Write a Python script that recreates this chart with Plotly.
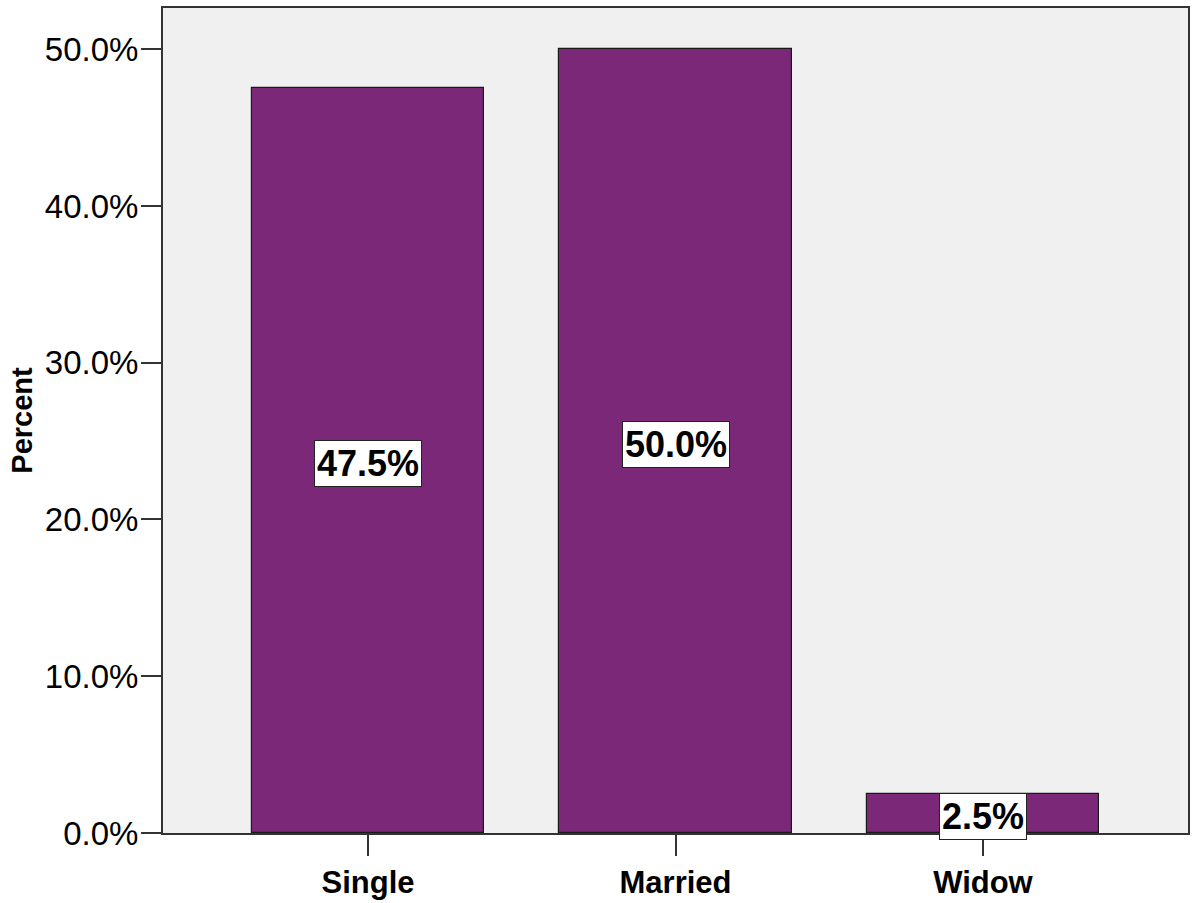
import plotly.graph_objects as go

categories = ["Single", "Married", "Widow"]
percents = [47.5, 50.0, 2.5]
y_ticks = [0, 10, 20, 30, 40, 50]
y_tick_labels = ["0.0%", "10.0%", "20.0%", "30.0%", "40.0%", "50.0%"]

fig = go.Figure()
fig.add_trace(go.Bar(
    x=list(range(len(categories))),
    y=percents,
    width=0.756,
    marker=dict(color="#7B2879", line=dict(color="#1a1a1a", width=1.2)),
    showlegend=False,
    hoverinfo="skip",
))

for i, v in enumerate(percents):
    fig.add_annotation(
        x=i, y=v / 2, xref="x", yref="y",
        text=f"{v:.1f}%",
        showarrow=False,
        yshift=-3,
        font=dict(family="Liberation Sans, Arial", size=36, color="#000000", weight="bold"),
        bgcolor="#FFFFFF",
        bordercolor="#222222",
        borderwidth=1,
        borderpad=2,
    )

fig.update_layout(
    width=1193, height=903,
    margin=dict(l=163, r=3, t=8, b=65, pad=0),
    paper_bgcolor="#FFFFFF",
    plot_bgcolor="#F0F0F0",
    bargap=0,
)

fig.update_xaxes(
    range=[-0.667, 2.667],
    tickmode="array",
    tickvals=list(range(len(categories))),
    ticktext=categories,
    ticks="outside", ticklen=21, tickwidth=1.5, tickcolor="#333333",
    tickfont=dict(family="Liberation Sans, Arial", size=31, color="#000000", weight="bold"),
    showline=True, linecolor="#333333", linewidth=2, mirror=True,
    showgrid=False, zeroline=False,
    fixedrange=True,
)

fig.update_yaxes(
    range=[0, 52.63],
    tickmode="array",
    tickvals=y_ticks,
    ticktext=y_tick_labels,
    ticks="outside", ticklen=20, tickwidth=1.5, tickcolor="#333333",
    tickfont=dict(family="Liberation Sans, Arial", size=33, color="#000000"),
    ticklabelstandoff=-4,
    showline=True, linecolor="#333333", linewidth=2, mirror=True,
    showgrid=False, zeroline=False,
    title=dict(text="Percent", font=dict(family="Liberation Sans, Arial", size=29, color="#000000", weight="bold"), standoff=4),
    fixedrange=True,
)

fig.write_html("out.html", config={"displayModeBar": False})
